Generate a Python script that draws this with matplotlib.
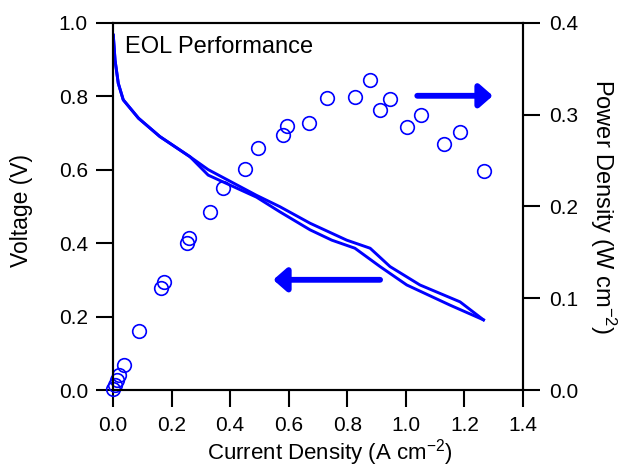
import matplotlib.pyplot as plt

plt.rcParams['font.family'] = ['Liberation Sans', 'DejaVu Sans']
plt.rcParams['mathtext.default'] = 'regular'

BLUE = '#0000ff'

# --- polarisation curves (left axis), two scans ---
j_scan1 = [0.001, 0.007, 0.018, 0.035, 0.087, 0.16, 0.263, 0.325, 0.49, 0.57,
           0.673, 0.747, 0.826, 0.912, 1.003, 1.151, 1.265]
v_scan1 = [0.966, 0.898, 0.835, 0.79, 0.74, 0.69, 0.635, 0.585, 0.525, 0.485,
           0.436, 0.408, 0.386, 0.336, 0.286, 0.231, 0.191]
j_scan2 = [0.001, 0.007, 0.018, 0.035, 0.087, 0.16, 0.263, 0.325, 0.49, 0.57,
           0.673, 0.798, 0.878, 0.946, 1.048, 1.185, 1.265]
v_scan2 = [0.966, 0.898, 0.835, 0.79, 0.74, 0.69, 0.635, 0.60, 0.53, 0.499,
           0.454, 0.408, 0.386, 0.336, 0.286, 0.240, 0.191]

# --- power density (right axis) ---
j_power = [0.001, 0.007, 0.013, 0.020, 0.038, 0.088, 0.163, 0.174, 0.252, 0.261,
           0.332, 0.375, 0.451, 0.496, 0.582, 0.593, 0.670, 0.732, 0.827, 0.879,
           0.912, 0.945, 1.005, 1.051, 1.130, 1.184, 1.268]
p_power = [0.001, 0.005, 0.011, 0.016, 0.027, 0.064, 0.111, 0.118, 0.160, 0.166,
           0.194, 0.220, 0.241, 0.264, 0.278, 0.287, 0.291, 0.318, 0.319, 0.338,
           0.305, 0.317, 0.286, 0.299, 0.268, 0.281, 0.238]

x_ticks = [0.0, 0.2, 0.4, 0.6, 0.8, 1.0, 1.2, 1.4]
v_ticks = [0.0, 0.2, 0.4, 0.6, 0.8, 1.0]
p_ticks = [0.0, 0.1, 0.2, 0.3, 0.4]

fig = plt.figure(figsize=(6.27, 4.67), dpi=100)
ax = fig.add_axes([113 / 627, 77 / 467, 410 / 627, 367.3 / 467])
ax2 = ax.twinx()

ax.plot(j_scan1, v_scan1, color=BLUE, lw=2.1)
ax.plot(j_scan2, v_scan2, color=BLUE, lw=2.1)
ax2.plot(j_power, p_power, 'o', mfc='none', mec=BLUE, ms=9.8, mew=1.2,
         clip_on=False)

# arrows pointing to the matching axis
arrow = dict(arrowstyle='-|>,head_length=0.8,head_width=0.7', lw=4.2,
             color=BLUE, shrinkA=0, shrinkB=0)
ax.annotate('', xy=(1.297, 0.801), xytext=(1.039, 0.801), arrowprops=arrow)
ax.annotate('', xy=(0.547, 0.300), xytext=(0.912, 0.300), arrowprops=arrow)

ax.text(0.029, 0.917, 'EOL Performance', transform=ax.transAxes,
        fontsize=17, va='baseline', ha='left')

ax.set_xlim(0, 1.4)
ax.set_ylim(0, 1.0)
ax2.set_ylim(0, 0.4)
ax.set_xticks(x_ticks)
ax.set_yticks(v_ticks)
ax2.set_yticks(p_ticks)
ax.set_xticklabels([f'{t:.1f}' for t in x_ticks])
ax.set_yticklabels([f'{t:.1f}' for t in v_ticks])
ax2.set_yticklabels([f'{t:.1f}' for t in p_ticks])

for a in (ax, ax2):
    for s in a.spines.values():
        s.set_linewidth(1.5)
ax.tick_params(axis='x', direction='out', length=12, width=1.5, pad=7,
               labelsize=15)
ax.tick_params(axis='y', direction='out', length=12, width=1.5, pad=6,
               labelsize=15)
ax2.tick_params(axis='y', direction='out', length=12, width=1.5, pad=7,
                labelsize=15)

ax.set_xlabel('Current Density (A cm$^{-2}$)', fontsize=16, va='baseline')
ax.xaxis.set_label_coords(0.529, -0.188)
ax.set_ylabel('Voltage (V)', fontsize=16.5, va='center')
ax.yaxis.set_label_coords(-0.222, 0.49)
ax2.set_ylabel('Power Density (W cm$^{-2}$)', fontsize=17, rotation=270,
               va='center', ha='center')
ax2.yaxis.set_label_coords(1.195, 0.5)

fig.savefig('out.png', dpi=100)
